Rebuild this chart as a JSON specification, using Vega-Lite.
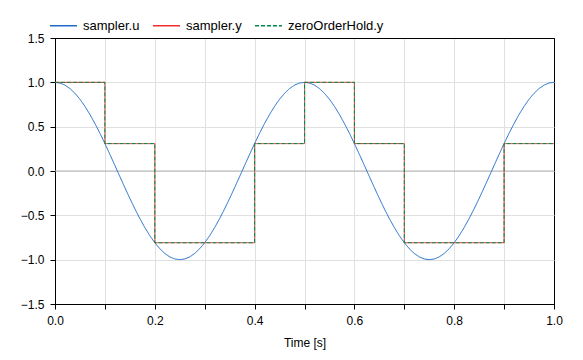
{
  "$schema": "https://vega.github.io/schema/vega-lite/v6.json",
  "width": 499,
  "height": 266,
  "autosize": {"type": "none"},
  "padding": {"left": 55, "top": 38, "right": 29, "bottom": 56},
  "background": "white",
  "config": {
    "font": "Liberation Sans",
    "view": {"stroke": "black", "strokeWidth": 1},
    "axis": {
      "labelFont": "Liberation Sans",
      "titleFont": "Liberation Sans",
      "labelFontSize": 12,
      "titleFontSize": 12,
      "titleFontWeight": "normal",
      "labelColor": "#000000",
      "titleColor": "#000000",
      "domainColor": "#000000",
      "tickColor": "#000000",
      "tickSize": 5,
      "gridWidth": 1,
      "labelFlush": false
    },
    "legend": {
      "labelFont": "Liberation Sans",
      "labelFontSize": 13,
      "labelColor": "#000000"
    }
  },
  "datasets": {
    "u": [
      {"t": 0.00, "v": 1.0}, {"t": 0.01, "v": 0.9921}, {"t": 0.02, "v": 0.9686}, {"t": 0.03, "v": 0.9298}, {"t": 0.04, "v": 0.8763},
      {"t": 0.05, "v": 0.8090}, {"t": 0.06, "v": 0.7290}, {"t": 0.07, "v": 0.6374}, {"t": 0.08, "v": 0.5358}, {"t": 0.09, "v": 0.4258},
      {"t": 0.10, "v": 0.3090}, {"t": 0.11, "v": 0.1874}, {"t": 0.12, "v": 0.0628}, {"t": 0.13, "v": -0.0628}, {"t": 0.14, "v": -0.1874},
      {"t": 0.15, "v": -0.3090}, {"t": 0.16, "v": -0.4258}, {"t": 0.17, "v": -0.5358}, {"t": 0.18, "v": -0.6374}, {"t": 0.19, "v": -0.7290},
      {"t": 0.20, "v": -0.8090}, {"t": 0.21, "v": -0.8763}, {"t": 0.22, "v": -0.9298}, {"t": 0.23, "v": -0.9686}, {"t": 0.24, "v": -0.9921},
      {"t": 0.25, "v": -1.0}, {"t": 0.26, "v": -0.9921}, {"t": 0.27, "v": -0.9686}, {"t": 0.28, "v": -0.9298}, {"t": 0.29, "v": -0.8763},
      {"t": 0.30, "v": -0.8090}, {"t": 0.31, "v": -0.7290}, {"t": 0.32, "v": -0.6374}, {"t": 0.33, "v": -0.5358}, {"t": 0.34, "v": -0.4258},
      {"t": 0.35, "v": -0.3090}, {"t": 0.36, "v": -0.1874}, {"t": 0.37, "v": -0.0628}, {"t": 0.38, "v": 0.0628}, {"t": 0.39, "v": 0.1874},
      {"t": 0.40, "v": 0.3090}, {"t": 0.41, "v": 0.4258}, {"t": 0.42, "v": 0.5358}, {"t": 0.43, "v": 0.6374}, {"t": 0.44, "v": 0.7290},
      {"t": 0.45, "v": 0.8090}, {"t": 0.46, "v": 0.8763}, {"t": 0.47, "v": 0.9298}, {"t": 0.48, "v": 0.9686}, {"t": 0.49, "v": 0.9921},
      {"t": 0.50, "v": 1.0}, {"t": 0.51, "v": 0.9921}, {"t": 0.52, "v": 0.9686}, {"t": 0.53, "v": 0.9298}, {"t": 0.54, "v": 0.8763},
      {"t": 0.55, "v": 0.8090}, {"t": 0.56, "v": 0.7290}, {"t": 0.57, "v": 0.6374}, {"t": 0.58, "v": 0.5358}, {"t": 0.59, "v": 0.4258},
      {"t": 0.60, "v": 0.3090}, {"t": 0.61, "v": 0.1874}, {"t": 0.62, "v": 0.0628}, {"t": 0.63, "v": -0.0628}, {"t": 0.64, "v": -0.1874},
      {"t": 0.65, "v": -0.3090}, {"t": 0.66, "v": -0.4258}, {"t": 0.67, "v": -0.5358}, {"t": 0.68, "v": -0.6374}, {"t": 0.69, "v": -0.7290},
      {"t": 0.70, "v": -0.8090}, {"t": 0.71, "v": -0.8763}, {"t": 0.72, "v": -0.9298}, {"t": 0.73, "v": -0.9686}, {"t": 0.74, "v": -0.9921},
      {"t": 0.75, "v": -1.0}, {"t": 0.76, "v": -0.9921}, {"t": 0.77, "v": -0.9686}, {"t": 0.78, "v": -0.9298}, {"t": 0.79, "v": -0.8763},
      {"t": 0.80, "v": -0.8090}, {"t": 0.81, "v": -0.7290}, {"t": 0.82, "v": -0.6374}, {"t": 0.83, "v": -0.5358}, {"t": 0.84, "v": -0.4258},
      {"t": 0.85, "v": -0.3090}, {"t": 0.86, "v": -0.1874}, {"t": 0.87, "v": -0.0628}, {"t": 0.88, "v": 0.0628}, {"t": 0.89, "v": 0.1874},
      {"t": 0.90, "v": 0.3090}, {"t": 0.91, "v": 0.4258}, {"t": 0.92, "v": 0.5358}, {"t": 0.93, "v": 0.6374}, {"t": 0.94, "v": 0.7290},
      {"t": 0.95, "v": 0.8090}, {"t": 0.96, "v": 0.8763}, {"t": 0.97, "v": 0.9298}, {"t": 0.98, "v": 0.9686}, {"t": 0.99, "v": 0.9921},
      {"t": 1.00, "v": 1.0}
    ],
    "y": [
      {"t": 0.0, "v": 1.0}, {"t": 0.1, "v": 0.309}, {"t": 0.2, "v": -0.809}, {"t": 0.3, "v": -0.809},
      {"t": 0.4, "v": 0.309}, {"t": 0.5, "v": 1.0}, {"t": 0.6, "v": 0.309}, {"t": 0.7, "v": -0.809},
      {"t": 0.8, "v": -0.809}, {"t": 0.9, "v": 0.309}, {"t": 1.0, "v": 0.309}
    ],
    "zero": [{"z": 0}]
  },
  "layer": [
    {
      "data": {"name": "zero"},
      "mark": {"type": "rule", "color": "#b4b4b4", "strokeWidth": 1},
      "encoding": {"y": {"field": "z", "type": "quantitative", "scale": {"domain": [-1.5, 1.5]}}}
    },
    {
      "data": {"name": "u"},
      "transform": [{"calculate": "'sampler.u'", "as": "series"}],
      "mark": {"type": "line", "strokeWidth": 1, "interpolate": "linear", "clip": true},
      "encoding": {
        "x": {
          "field": "t", "type": "quantitative",
          "scale": {"domain": [0, 1], "nice": false, "zero": false},
          "axis": {
            "title": "Time [s]",
            "values": [0, 0.1, 0.2, 0.3, 0.4, 0.5, 0.6, 0.7, 0.8, 0.9, 1.0],
            "labelExpr": "round(datum.value*10) % 2 == 0 ? format(datum.value, '.1f') : ''",
            "labelPadding": 6,
            "titlePadding": 11,
            "gridColor": {"condition": {"test": "datum.value == 0 || datum.value == 1", "value": "#000000"}, "value": "#e0e0e0"}
          }
        },
        "y": {
          "field": "v", "type": "quantitative",
          "scale": {"domain": [-1.5, 1.5], "nice": false},
          "axis": {
            "title": null,
            "values": [-1.5, -1.0, -0.5, 0, 0.5, 1.0, 1.5],
            "format": ".1f",
            "labelPadding": 6,
            "gridColor": {"condition": {"test": "datum.value == 1.5 || datum.value == -1.5", "value": "#000000"}, "value": "#e0e0e0"}
          }
        },
        "color": {
          "field": "series", "type": "nominal",
          "scale": {"domain": ["sampler.u", "sampler.y", "zeroOrderHold.y"], "range": ["#1c6cc8", "#ee2e2f", "#008c48"]},
          "legend": {
            "title": null, "orient": "none", "direction": "horizontal",
            "legendX": -6, "legendY": -27,
            "symbolType": "stroke", "symbolSize": 729, "symbolStrokeWidth": 1.5,
            "columnPadding": 10, "labelOffset": 5
          }
        },
        "strokeDash": {
          "field": "series", "type": "nominal",
          "scale": {"domain": ["sampler.u", "sampler.y", "zeroOrderHold.y"], "range": [[1, 0], [1, 0], [4, 2]]},
          "legend": null
        }
      }
    },
    {
      "data": {"name": "y"},
      "transform": [{"calculate": "'sampler.y'", "as": "series"}],
      "mark": {"type": "line", "strokeWidth": 1, "interpolate": "step-after", "clip": true},
      "encoding": {
        "x": {"field": "t", "type": "quantitative"},
        "y": {"field": "v", "type": "quantitative"},
        "color": {"field": "series", "type": "nominal"},
        "strokeDash": {"field": "series", "type": "nominal"}
      }
    },
    {
      "data": {"name": "y"},
      "transform": [{"calculate": "'zeroOrderHold.y'", "as": "series"}],
      "mark": {"type": "line", "strokeWidth": 1, "interpolate": "step-after", "clip": true},
      "encoding": {
        "x": {"field": "t", "type": "quantitative"},
        "y": {"field": "v", "type": "quantitative"},
        "color": {"field": "series", "type": "nominal"},
        "strokeDash": {"field": "series", "type": "nominal"}
      }
    }
  ]
}
